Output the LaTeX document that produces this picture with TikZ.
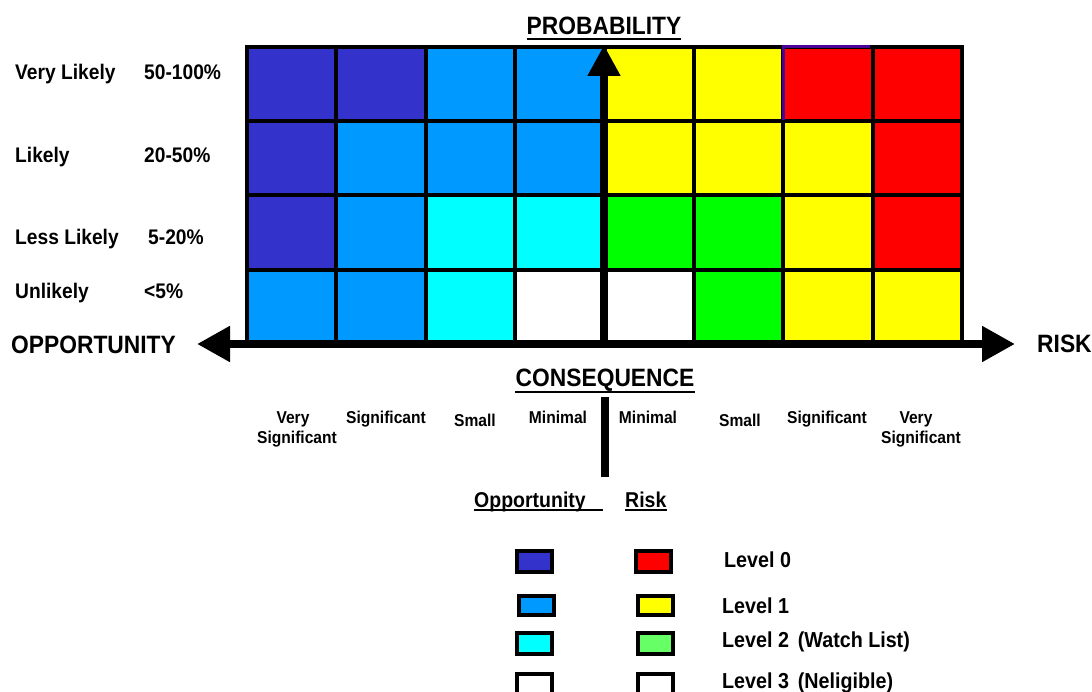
\documentclass[tikz,border=0pt]{standalone}
\usepackage{fontspec}
\setmainfont{Liberation Sans}
\usetikzlibrary{arrows.meta}

\definecolor{oppA}{RGB}{51,51,204}
\definecolor{oppB}{RGB}{0,153,255}
\definecolor{oppC}{RGB}{0,255,255}
\definecolor{riskA}{RGB}{255,0,0}
\definecolor{riskB}{RGB}{255,255,0}
\definecolor{riskC}{RGB}{0,255,0}
\definecolor{riskCkey}{RGB}{102,255,102}
\definecolor{edgeviolet}{RGB}{75,0,150}

% slightly tall lettering
\newcommand\tall[1]{\scalebox{1}[1.1]{#1}}

\tikzset{
  txt/.style={inner sep=0pt, font=\bfseries\fontsize{#1}{#1}\selectfont},
  rowlbl/.style={txt=19.2, anchor=base west},
  biglbl/.style={txt=22.8},
  collbl/.style={txt=15.6, anchor=base},
  leglbl/.style={txt=19.7, anchor=base west},
  gridline/.style={line width=4pt, black},
  axis/.style={line width=8pt, black},
  uline/.style={line width=2pt, black},
  keybox/.style={draw=black, line width=4pt, minimum width=35pt, inner sep=0pt},
  bigtip/.tip={Triangle[length=33pt, width=34pt]},
  uptip/.tip={Triangle[length=31pt, width=31pt]},
}

\begin{document}
\begin{tikzpicture}[x=1pt, y=-1pt]
\useasboundingbox (0,0) rectangle (1092,692);

% ---- matrix cells: one colour list per probability row (top to bottom)
\foreach \cells [count=\r] in {
    {oppA,oppA,oppB,oppB,riskB,riskB,riskA,riskA},
    {oppA,oppB,oppB,oppB,riskB,riskB,riskB,riskA},
    {oppA,oppB,oppC,oppC,riskC,riskC,riskB,riskA},
    {oppB,oppB,oppC,white,white,riskC,riskB,riskB}}{
  \foreach \c [count=\i] in \cells{
    \fill[\c] ({247+(\i-1)*89.4},{47+(\r-1)*74.25})
      rectangle ({247+\i*89.4},{47+\r*74.25});
  }
}

% ---- grid lines
\draw[gridline] (247,47) rectangle (962.2,344);
\foreach \i in {1,...,7}
  \draw[gridline] ({247+\i*89.4},47) -- ({247+\i*89.4},344);
\foreach \r in {1,2,3}
  \draw[gridline] (247,{47+\r*74.25}) -- (962.2,{47+\r*74.25});
\draw[line width=3pt, edgeviolet] (783.4,120) -- (783.4,47) -- (870,47);

% ---- axes
\coordinate (oppTip) at (197,344);
\coordinate (riskTip) at (1015,344);
\coordinate (probBase) at (604,348);
\coordinate (probTip) at (604,45);
\coordinate (splitTop) at (605,397);
\coordinate (splitBot) at (605,477);
\draw[axis, bigtip-bigtip] (oppTip) -- (riskTip);
\draw[axis, -uptip] (probBase) -- (probTip);
\draw[axis] (splitTop) -- (splitBot);

% ---- axis titles
\node[biglbl, anchor=base west] (opp) at (11,354) {\tall{OPPORTUNITY}};
\node[biglbl, anchor=base west] (risk) at (1037,353) {\tall{RISK}};
\node[biglbl, anchor=base] (prob) at (604,35) {\tall{PROBABILITY}};
\draw[uline] ([yshift=-4pt]prob.base west) -- ([yshift=-4pt]prob.base east);
\node[biglbl, anchor=base] (cons) at (605,387) {\tall{CONSEQUENCE}};
\draw[uline] ([yshift=-5pt]cons.base west) -- ([yshift=-5pt]cons.base east);

% ---- probability rows
\node[rowlbl] (vl)  at (15,80)  {\tall{Very Likely}};
\node[rowlbl] (vlp) at (144,80) {\tall{50-100\%}};
\node[rowlbl] (li)  at (15,163) {\tall{Likely}};
\node[rowlbl] (lip) at (144,163) {\tall{20-50\%}};
\node[rowlbl] (ll)  at (15,245) {\tall{Less Likely}};
\node[rowlbl] (llp) at (148,245) {\tall{5-20\%}};
\node[rowlbl] (ul)  at (15,299) {\tall{Unlikely}};
\node[rowlbl] (ulp) at (144,299) {\tall{<5\%}};

% ---- consequence columns
\node[collbl] (c1a) at (293,423) {\tall{Very}};
\node[collbl] (c1b) at (297,443) {\tall{Significant}};
\node[collbl] (c2)  at (386,423) {\tall{Significant}};
\node[collbl] (c3)  at (475,426) {\tall{Small}};
\node[collbl] (c4)  at (558,423) {\tall{Minimal}};
\node[collbl] (c5)  at (648,423) {\tall{Minimal}};
\node[collbl] (c6)  at (740,426) {\tall{Small}};
\node[collbl] (c7)  at (827,423) {\tall{Significant}};
\node[collbl] (c8a) at (916,423) {\tall{Very}};
\node[collbl] (c8b) at (921,443) {\tall{Significant}};

% ---- legend
\node[leglbl, txt=19.5, anchor=base west] (kopp) at (474,507) {\tall{Opportunity}};
\draw[uline] (474,510) -- (603,510);
\node[leglbl, txt=19.5, anchor=base west] (krisk) at (625,507) {\tall{Risk}};
\draw[uline] ([yshift=-3pt]krisk.base west) -- ([yshift=-3pt]krisk.base east);

\node[keybox, minimum height=21pt, fill=oppA]     (k0o) at (534.5,561.5) {};
\node[keybox, minimum height=21pt, fill=riskA]    (k0r) at (653,561.5) {};
\node[keybox, minimum height=19pt, fill=oppB]     (k1o) at (536.5,605.5) {};
\node[keybox, minimum height=19pt, fill=riskB]    (k1r) at (655,605.5) {};
\node[keybox, minimum height=21pt, fill=oppC]     (k2o) at (534.5,643.5) {};
\node[keybox, minimum height=21pt, fill=riskCkey] (k2r) at (655,643.5) {};
\node[keybox, minimum height=21pt, fill=white]    (k3o) at (534.5,684.5) {};
\node[keybox, minimum height=21pt, fill=white]    (k3r) at (655,684.5) {};

\node[leglbl] (l0) at (724,567) {\tall{Level 0}};
\node[leglbl] (l1) at (722,613) {\tall{Level 1}};
\node[leglbl] (l2) at (722,647) {\tall{Level 2\hspace{0.45em}(Watch List)}};
\node[leglbl] (l3) at (722,688) {\tall{Level 3\hspace{0.45em}(Neligible)}};
\end{tikzpicture}
\end{document}
